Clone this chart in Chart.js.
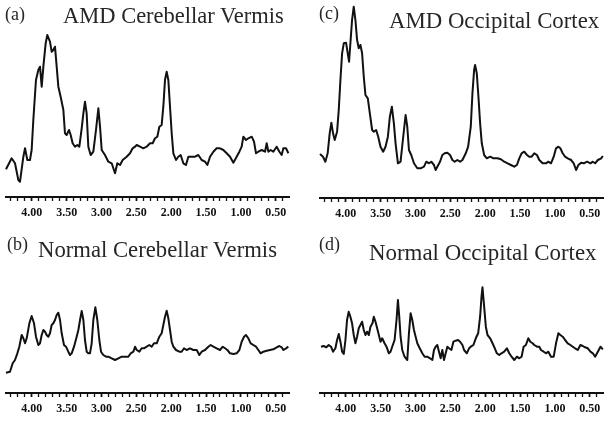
<!DOCTYPE html>
<html><head><meta charset="utf-8">
<script src="https://cdn.jsdelivr.net/npm/chart.js@4.4.0/dist/chart.umd.min.js"></script>
<style>
html,body{margin:0;padding:0;background:#fff;}
body{width:614px;height:421px;position:relative;overflow:hidden;font-family:"Liberation Serif","Times New Roman",serif;}
canvas{position:absolute;}
.t{position:absolute;line-height:1;white-space:nowrap;color:#262626;}
</style></head><body>
<canvas id="ca" width="307" height="221" style="left:0;top:0"></canvas>
<canvas id="cc" width="307" height="222" style="left:307px;top:0"></canvas>
<canvas id="cb" width="307" height="202" style="left:0;top:215px"></canvas>
<canvas id="cd" width="307" height="202" style="left:307px;top:215px"></canvas>
<div class="t" style="left:5px;top:5px;font-size:18px">(a)</div>
<div class="t" style="left:63px;top:5px;font-size:22.5px">AMD Cerebellar Vermis</div>
<div class="t" style="left:319px;top:4px;font-size:18px">(c)</div>
<div class="t" style="left:389px;top:10px;font-size:22.8px">AMD Occipital Cortex</div>
<div class="t" style="left:7px;top:235px;font-size:18px">(b)</div>
<div class="t" style="left:38px;top:239px;font-size:22.7px">Normal Cerebellar Vermis</div>
<div class="t" style="left:319px;top:235px;font-size:18px">(d)</div>
<div class="t" style="left:369px;top:242px;font-size:22.9px">Normal Occipital Cortex</div>
<script>
// chemical shift axis (ppm), reversed
const xMin = 0.31, xMax = 4.37;
const tickLabels = [4.00, 3.50, 3.00, 2.50, 2.00, 1.50, 1.00, 0.50];
const minorStep = 0.1;

// (a) AMD Cerebellar Vermis
const ppmA = [4.370,4.289,4.241,4.193,4.169,4.121,4.097,4.064,4.026,4.002,
3.978,3.940,3.906,3.882,3.858,3.834,3.801,3.777,3.739,3.715,
3.691,3.667,3.643,3.619,3.586,3.547,3.524,3.500,3.466,3.442,
3.414,3.380,3.347,3.318,3.284,3.260,3.237,3.213,3.189,3.155,
3.117,3.079,3.045,3.021,2.997,2.950,2.902,2.854,2.806,2.773,
2.734,2.696,2.639,2.591,2.553,2.519,2.495,2.447,2.400,2.352,
2.304,2.266,2.232,2.199,2.170,2.137,2.113,2.089,2.065,2.041,
2.017,1.993,1.969,1.931,1.898,1.864,1.826,1.788,1.754,1.706,
1.658,1.611,1.563,1.515,1.481,1.443,1.395,1.348,1.300,1.252,
1.204,1.156,1.108,1.061,1.022,0.989,0.965,0.927,0.893,0.845,
0.812,0.783,0.750,0.702,0.654,0.630,0.606,0.573,0.535,0.487,
0.448,0.415,0.391,0.353,0.319];
const intA = [27.7,38.7,33.7,17,15.3,40.3,48.7,37,37,47,
77,117,127,130.3,110.3,130.3,153.7,162,155.3,145.3,
147,150.3,130.3,110.3,100.3,87,63.7,62,67,62,
53.7,50.3,52,50.3,68.7,83.7,95.3,83.7,50.3,42,
45.3,67,88.7,70.3,47,42,35.3,33.7,23.7,33.7,
32,37,40.3,43.7,48.7,50.3,52,50.3,48.7,50.3,
53.7,53.7,58.7,60.3,70.3,72,90.3,117,125.3,117,
90.3,63.7,43.7,37,40.3,42,33.7,32,40.3,40.3,
40.3,42,37,35.3,32,40.3,45.3,48.7,48.7,47,
43.7,40.3,34.3,40.3,45.3,50.3,60.3,57,58.7,60.3,
55.3,43.7,45.3,47,45.3,53.7,45.3,47,45.3,50.3,
45.3,42,48.7,48.7,43.7];

// (c) AMD Occipital Cortex
const ppmC = [4.370,4.327,4.293,4.260,4.231,4.207,4.183,4.159,4.125,4.101,
4.077,4.053,4.029,3.996,3.972,3.953,3.934,3.910,3.886,3.862,
3.838,3.814,3.790,3.766,3.742,3.718,3.684,3.655,3.622,3.598,
3.564,3.535,3.502,3.464,3.430,3.396,3.368,3.339,3.310,3.286,
3.252,3.214,3.181,3.142,3.118,3.094,3.061,3.022,2.974,2.926,
2.878,2.845,2.806,2.773,2.735,2.711,2.687,2.648,2.615,2.581,
2.543,2.504,2.471,2.437,2.399,2.360,2.327,2.279,2.245,2.207,
2.183,2.159,2.145,2.121,2.097,2.073,2.049,2.015,1.977,1.929,
1.881,1.823,1.775,1.727,1.679,1.631,1.583,1.545,1.511,1.478,
1.440,1.401,1.368,1.334,1.296,1.257,1.224,1.176,1.128,1.094,
1.056,1.017,0.984,0.950,0.922,0.888,0.854,0.816,0.768,0.730,
0.696,0.663,0.624,0.586,0.538,0.490,0.456,0.423,0.384,0.336,
0.312];
const intC = [44,41.3,36.3,44.7,64.7,75.3,64.7,58,66.3,88,
118,144.7,154.7,155.3,144.7,136.3,154.7,178,191.3,178,
158,149.7,153,144.7,121.3,103,99.7,84.7,68,66.3,
68,61.3,51.3,46.3,51.3,61.3,81.3,91.3,74.7,54.7,
34.7,36.3,58,83,71.3,48,43,34.7,29.7,29.7,
31.3,36.3,34.7,36.3,33,28,31.3,36.3,43,44.7,
45.3,43,38,36.3,38,36.3,38,44.7,51.3,71.3,
104.7,128,133,124.7,101.3,74.7,54.7,43,39.7,41.3,
39.7,39.7,38.7,36.3,34.7,33,31.3,33,39.7,44.7,
46.3,43,41.3,41.3,44.7,43,38,34.7,34.7,36.3,
34.7,41.3,49.7,51.3,49.7,44.7,41.3,39.7,38,34.7,
28,33,35.3,34.7,36.3,34.7,36.3,34.7,38,39.7,
42];

// (b) Normal Cerebellar Vermis
const ppmB = [4.370,4.313,4.274,4.241,4.207,4.179,4.145,4.121,4.097,4.073,
4.035,4.002,3.968,3.940,3.906,3.882,3.858,3.834,3.810,3.787,
3.763,3.739,3.715,3.691,3.667,3.643,3.619,3.595,3.571,3.538,
3.509,3.476,3.452,3.428,3.394,3.356,3.332,3.308,3.284,3.260,
3.237,3.213,3.189,3.165,3.141,3.117,3.088,3.060,3.031,3.007,
2.974,2.935,2.902,2.854,2.806,2.758,2.711,2.663,2.615,2.581,
2.543,2.519,2.495,2.457,2.424,2.390,2.352,2.314,2.280,2.247,
2.208,2.170,2.137,2.113,2.089,2.065,2.041,2.017,1.993,1.969,
1.931,1.883,1.850,1.816,1.778,1.730,1.682,1.634,1.596,1.563,
1.515,1.467,1.434,1.395,1.348,1.300,1.261,1.228,1.194,1.156,
1.108,1.061,1.022,0.989,0.955,0.927,0.893,0.860,0.821,0.783,
0.750,0.716,0.678,0.630,0.582,0.535,0.487,0.448,0.415,0.391,
0.353,0.319];
const intB = [20.3,21.3,29.7,33,39.7,46.3,58,54.7,49.7,54.7,
69.7,77,69.7,56.3,48,49.7,58,63,61.3,58,
56.3,59.7,68,69.7,73,78,80.3,73,59.7,48,
46.3,41.3,38,39.7,46.3,56.3,63,73,82,73,
53,41.3,39.7,39.7,49.7,73,85.7,73,53,41.3,
38,36.3,36.3,34.7,33,34.7,36.3,36.3,36.3,39.7,
41.3,46.3,43,41.3,44.7,44.7,46.3,48,46.3,49.7,
49.7,56.3,59.7,68,76.3,82.3,74.7,63,51.3,46.3,
43,41.3,41.3,44.7,43,44.7,43,43,38,41.3,
43,46.3,48,46.3,44.7,43,46.3,44.7,43,39.7,
39,39.7,43,51.3,56.3,58,54.7,49.7,48,46.3,
43,39.7,41.3,42.3,43,43.7,45.7,47,45.7,43,
44.7,46.3];

// (d) Normal Occipital Cortex
const ppmD = [4.356,4.317,4.279,4.245,4.212,4.183,4.149,4.125,4.101,4.077,
4.053,4.029,4.005,3.982,3.958,3.934,3.910,3.886,3.862,3.838,
3.814,3.790,3.766,3.742,3.718,3.694,3.670,3.646,3.617,3.598,
3.574,3.550,3.526,3.502,3.478,3.444,3.416,3.382,3.358,3.334,
3.300,3.272,3.252,3.233,3.214,3.190,3.157,3.118,3.094,3.070,
3.046,3.022,2.998,2.974,2.950,2.926,2.902,2.869,2.830,2.792,
2.758,2.735,2.711,2.687,2.663,2.639,2.615,2.591,2.567,2.543,
2.519,2.485,2.456,2.423,2.389,2.360,2.327,2.303,2.264,2.231,
2.207,2.169,2.135,2.101,2.073,2.053,2.039,2.015,1.991,1.967,
1.929,1.895,1.862,1.833,1.799,1.766,1.727,1.689,1.655,1.622,
1.583,1.545,1.511,1.478,1.449,1.416,1.382,1.353,1.320,1.296,
1.257,1.224,1.200,1.161,1.128,1.094,1.056,1.017,0.984,0.950,
0.922,0.888,0.854,0.816,0.778,0.744,0.711,0.672,0.634,0.600,
0.567,0.528,0.490,0.456,0.423,0.384,0.346,0.312];
const intD = [46.3,47,45.7,48,46.3,41.3,44.7,53,59,51.3,
41.3,39,53,73,81.3,76.3,69.7,58,49.7,56.3,
64.7,68,71.3,63,58,61.3,58,66.3,69.7,76.3,
71.3,64.7,58,51.3,54.7,49.7,46.3,39.7,41.3,46.3,
53,73,93,76.3,56.3,43,36.3,33,59.7,79.7,
73,63,56.3,49.7,46.3,43,39.7,36.3,36.3,34.7,
33,43,46.3,48,41.3,34.7,43,33,39.7,46.3,
44.7,43,51.3,52.3,53,51.3,48,43,39.7,44.7,
46.3,48,54.7,59.7,76.3,96.3,105.7,86.3,66.3,58,
54.7,49.7,44.7,39.7,38,39.7,41.3,44.7,39.7,36.3,
33,36.3,34.7,36.3,46.3,48,54.7,51.3,49.7,48,
46.3,46.3,43,41.3,39.7,41.3,36.3,36.3,49.7,59.7,
58,56.3,53,49.7,48,46.3,44.7,43,48,47,
45.7,44.7,41.3,39.7,36.3,41.3,46.3,43.7];

const isMajor = v => tickLabels.some(t => Math.abs(t - v) < 1e-6);
const tickValues = [];
for (let k = Math.ceil(xMin / minorStep); k * minorStep <= xMax + 1e-9; k++) tickValues.push(Math.round(k * minorStep * 10) / 10);

function panel(id, ppm, inten, yMax, padL, padR) {
  const pts = ppm.map((p, i) => ({ x: p, y: inten[i] }));
  new Chart(document.getElementById(id), {
    type: 'line',
    data: { datasets: [{ data: pts, borderColor: '#111', borderWidth: 2, pointRadius: 0,
      tension: 0, borderJoinStyle: 'round', fill: false, clip: false }] },
    options: {
      responsive: false, animation: false, events: [],
      layout: { padding: { left: padL, right: padR, top: 0, bottom: 0 } },
      plugins: { legend: { display: false }, tooltip: { enabled: false } },
      scales: {
        x: {
          type: 'linear', reverse: true, min: xMin, max: xMax,
          afterBuildTicks: s => { s.ticks = tickValues.map(v => ({ value: v })); },
          afterFit: s => { s.height = 24; },
          ticks: { autoSkip: false, maxRotation: 0, minRotation: 0, padding: 5, color: '#111',
            font: { family: 'Liberation Serif', size: 12, weight: 'bold' },
            callback: v => isMajor(v) ? Number(v).toFixed(2) : '' },
          grid: { display: true, drawOnChartArea: false, drawTicks: true, tickLength: 4,
            color: '#111', tickWidth: ctx => (ctx.tick && isMajor(ctx.tick.value)) ? 1.8 : 1.3 },
          border: { display: true, color: '#111', width: 2 }
        },
        y: { display: false, min: 0, max: yMax }
      }
    }
  });
}
panel('ca', ppmA, intA, 197, 6, 18);
panel('cc', ppmC, intC, 198, 13, 11);
panel('cb', ppmB, intB, 178, 6, 18);
panel('cd', ppmD, intD, 178, 13, 11);
</script>
</body></html>
